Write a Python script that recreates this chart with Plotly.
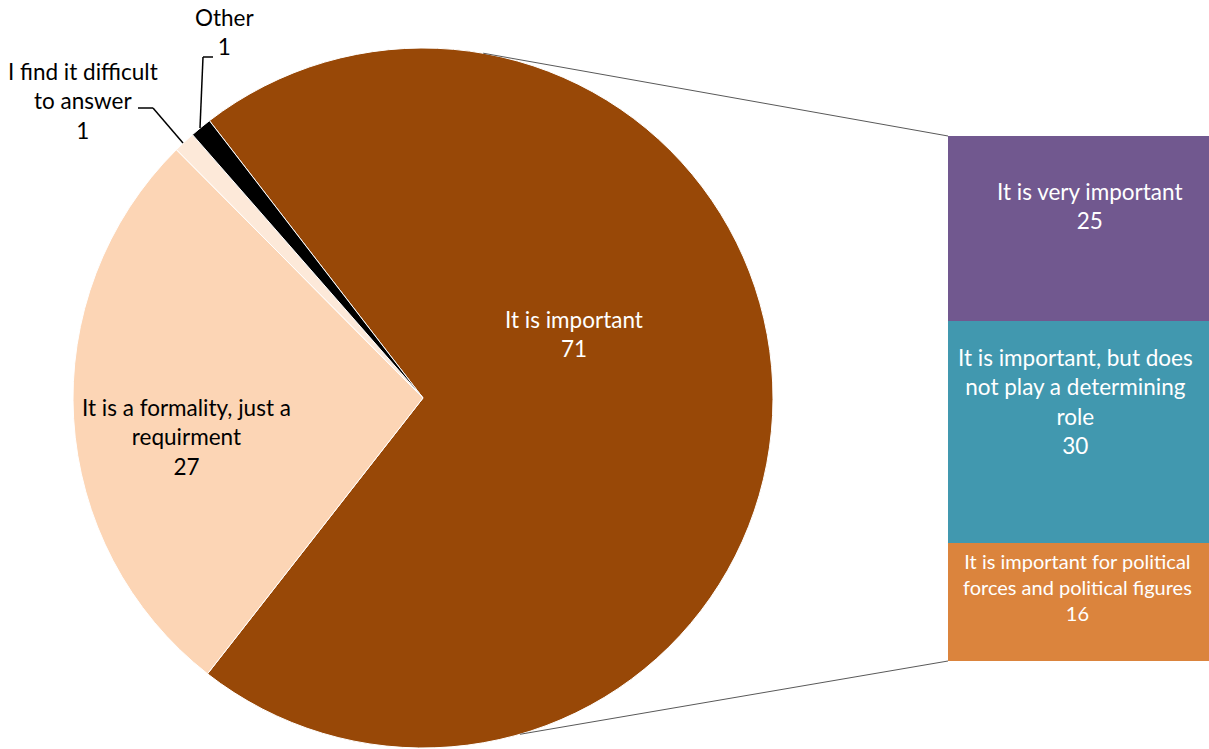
import math
import plotly.graph_objects as go

W, H = 1209, 749

# ---- data ----
pie_labels = ["It is important", "It is a formality, just a<br>requirment",
              "I find it difficult<br>to answer", "Other"]
pie_values = [71, 27, 1, 1]
pie_colors = ["#984807", "#FCD5B5", "#FDE9D9", "#000000"]

bar_labels = ["It is very important",
              "It is important, but does<br>not play a determining<br>role",
              "It is important for political<br>forces and political figures"]
bar_values = [25, 30, 16]
bar_colors = ["#71588F", "#4198AF", "#DB843D"]

FONT = "Lato"


def px(x):
    return x / W


def py(y):
    return 1 - y / H


# pie geometry (pixels)
cx, cy, R = 423, 398, 350
rotation = -37.6

fig = go.Figure()
fig.add_trace(go.Pie(
    labels=[l.replace("<br>", " ") for l in pie_labels],
    values=pie_values,
    marker=dict(colors=pie_colors, line=dict(color="white", width=1)),
    sort=False, direction="clockwise", rotation=rotation,
    textinfo="none", hoverinfo="label+value",
    domain=dict(x=[px(cx - R), px(cx + R)], y=[py(cy + R), py(cy - R)]),
    showlegend=False,
))

# stacked bar (bottom to top)
for lab, val, col in reversed(list(zip(bar_labels, bar_values, bar_colors))):
    fig.add_trace(go.Bar(
        x=[0], y=[val], marker=dict(color=col, line=dict(width=0)),
        name=lab.replace("<br>", " "), textposition="none",
        showlegend=False, hoverinfo="name+y",
    ))

bar_left, bar_right = 948, W
bar_top, bar_bottom = 136, 661
total_bar = sum(bar_values)

fig.update_layout(
    width=W, height=H, margin=dict(l=0, r=0, t=0, b=0),
    paper_bgcolor="white", plot_bgcolor="white",
    barmode="stack", bargap=0,
    xaxis=dict(domain=[px(bar_left), px(bar_right)], range=[-0.5, 0.5],
               visible=False, fixedrange=True),
    yaxis=dict(domain=[py(bar_bottom), py(bar_top)], range=[0, total_bar],
               visible=False, fixedrange=True),
    font=dict(family=FONT),
)

ann = []
# pie labels
pie_label_pos = [(574, 334, "white"), (186, 437, "black"),
                 (83, 101, "black"), (224, 32, "black")]
for lab, val, (x, y, c) in zip(pie_labels, pie_values, pie_label_pos):
    ann.append(dict(text=f"{lab}<br>{val}", x=px(x), y=py(y), xref="paper", yref="paper",
                    showarrow=False, font=dict(size=22.5, color=c, family=FONT),
                    xanchor="center", yanchor="middle", align="center"))

# bar labels at segment centers (data coords)
shifts = [(11, 22), (-3, 30), (-1, 15)]
sizes = [22.5, 22.5, 20]
cum = total_bar
for lab, val, (dx, dy), s in zip(bar_labels, bar_values, shifts, sizes):
    mid = cum - val / 2
    cum -= val
    ann.append(dict(text=f"{lab}<br>{val}", x=0, y=mid, xref="x", yref="y",
                    xshift=dx, yshift=dy, showarrow=False,
                    font=dict(size=s, color="white", family=FONT),
                    xanchor="center", yanchor="middle", align="center"))
fig.update_layout(annotations=ann)

shapes = []
# connector lines from pie edge to bar corners
def circ(a_deg):
    a = math.radians(a_deg)
    return cx + R * math.cos(a), cy - R * math.sin(a)

tx, ty = circ(80.1)
bx, by = circ(-73.9)
shapes.append(dict(type="line", xref="paper", yref="paper",
                   x0=px(tx), y0=py(ty), x1=px(bar_left), y1=py(bar_top),
                   line=dict(color="#595959", width=1)))
shapes.append(dict(type="line", xref="paper", yref="paper",
                   x0=px(bx), y0=py(by), x1=px(bar_left), y1=py(bar_bottom),
                   line=dict(color="#595959", width=1)))

# leader lines for small slices
leaders = [[(213, 57), (203, 57), (200, 128)],
           [(138, 108), (153, 108), (183, 143)]]
for pts in leaders:
    for (x0, y0), (x1, y1) in zip(pts[:-1], pts[1:]):
        shapes.append(dict(type="line", xref="paper", yref="paper",
                           x0=px(x0), y0=py(y0), x1=px(x1), y1=py(y1),
                           line=dict(color="black", width=1.5)))
fig.update_layout(shapes=shapes)

fig.write_html("out.html")
